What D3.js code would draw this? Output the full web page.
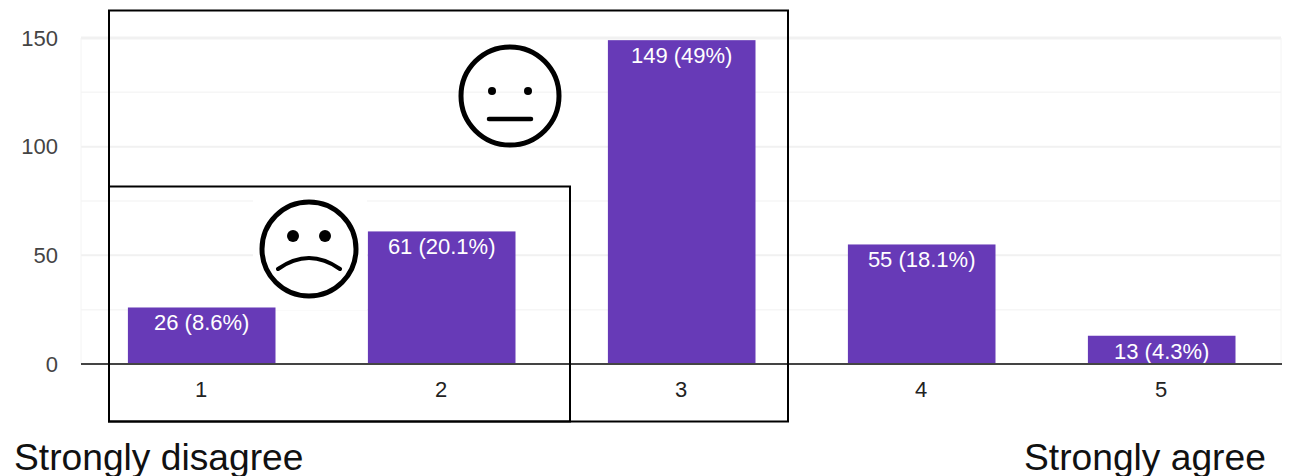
<!DOCTYPE html>
<html>
<head>
<meta charset="utf-8">
<script src="https://cdn.jsdelivr.net/npm/d3@7"></script>
<style>
  html, body { margin: 0; padding: 0; background: #fff; }
  svg { display: block; }
  text { font-family: "Liberation Sans", Arial, sans-serif; }
  .domain { display: none; }
</style>
</head>
<body>
<svg class="chart" width="1291" height="476"></svg>
<script>
const categories = ['1', '2', '3', '4', '5']
const counts = [26, 61, 149, 55, 13]
const percents = ['8.6%', '20.1%', '49%', '18.1%', '4.3%']
const majorTicks = [0, 50, 100, 150]
const minorTicks = [25, 75, 125]
const endLabels = ['Strongly disagree', 'Strongly agree']

const svg = d3.select('.chart')
const purple = '#673ab7'

const x = d3.scaleBand().domain(categories).range([81.7, 1281.7]).paddingInner(0.385).paddingOuter(0.1925)
const y = d3.scaleLinear().domain([0, 150]).range([364, 38])

// grid
svg.append('g').selectAll('line').data(minorTicks).enter().append('line')
    .attr('x1', 81).attr('x2', 1281)
    .attr('y1', d => y(d)).attr('y2', d => y(d))
    .attr('stroke', '#f6f6f6').attr('stroke-width', 1.5)
svg.append('g').selectAll('line').data(majorTicks.slice(1)).enter().append('line')
    .attr('x1', 81).attr('x2', 1281)
    .attr('y1', d => y(d)).attr('y2', d => y(d))
    .attr('stroke', '#f1f1f1').attr('stroke-width', d => d === 150 ? 3 : 2)
svg.append('g').selectAll('line').data([81, 1281]).enter().append('line')
    .attr('x1', d => d).attr('x2', d => d)
    .attr('y1', y(150)).attr('y2', y(0))
    .attr('stroke', '#f4f4f4').attr('stroke-width', 1)

// white patch pasted under the sad face
svg.append('rect').attr('x', 253).attr('y', 196).attr('width', 114).attr('height', 114).attr('fill', '#fff')

// bars
const bars = svg.append('g').selectAll('g').data(categories).enter().append('g')
bars.append('rect')
    .attr('x', d => x(d))
    .attr('y', (d, i) => y(counts[i]))
    .attr('width', x.bandwidth())
    .attr('height', (d, i) => y(0) - y(counts[i]))
    .attr('fill', purple)
bars.append('text')
    .attr('x', d => x(d) + x.bandwidth() / 2)
    .attr('y', (d, i) => y(counts[i]) + 23)
    .attr('text-anchor', 'middle')
    .attr('font-size', 22)
    .attr('fill', '#fff')
    .text((d, i) => `${counts[i]} (${percents[i]})`)

// axes
const yAxis = svg.append('g')
    .attr('transform', 'translate(81,0)')
    .call(d3.axisLeft(y).tickValues(majorTicks).tickSize(0).tickPadding(23))
yAxis.selectAll('text').attr('font-size', 22).attr('fill', '#444').attr('font-family', null)

const xAxis = svg.append('g')
    .attr('transform', 'translate(-0.7,364)')
    .call(d3.axisBottom(x).tickSize(0).tickPadding(17))
xAxis.selectAll('text').attr('font-size', 22).attr('fill', '#222').attr('font-family', null)

svg.append('line')
    .attr('x1', 81).attr('x2', 1282)
    .attr('y1', y(0)).attr('y2', y(0))
    .attr('stroke', '#444').attr('stroke-width', 2)

// annotation boxes
svg.append('rect').attr('x', 109).attr('y', 10.5).attr('width', 679).attr('height', 411)
    .attr('fill', 'none').attr('stroke', '#000').attr('stroke-width', 2)
svg.append('rect').attr('x', 109).attr('y', 186.5).attr('width', 461).attr('height', 235)
    .attr('fill', 'none').attr('stroke', '#000').attr('stroke-width', 2)

// faces
const face = svg.append('g').attr('transform', 'translate(510,96)')
    .attr('fill', 'none').attr('stroke', '#000')
face.append('circle').attr('r', 49).attr('stroke-width', 5)
face.selectAll('.eye').data([-18, 18]).enter().append('circle')
    .attr('class', 'eye').attr('cx', d => d).attr('cy', -5).attr('r', 4)
    .attr('fill', '#000').attr('stroke', 'none')
face.append('path').attr('d', 'M-21,23H21').attr('stroke-width', 4.5).attr('stroke-linecap', 'round')

const sad = svg.append('g').attr('transform', 'translate(309,249)')
    .attr('fill', 'none').attr('stroke', '#000')
sad.append('circle').attr('r', 47).attr('stroke-width', 5)
sad.selectAll('.eye').data([-16, 16]).enter().append('circle')
    .attr('class', 'eye').attr('cx', d => d).attr('cy', -13).attr('r', 6)
    .attr('fill', '#000').attr('stroke', 'none')
sad.append('path').attr('d', 'M-31,20Q0,-2 31,20').attr('stroke-width', 4).attr('stroke-linecap', 'round')

// scale end labels
svg.append('text').attr('x', 14).attr('y', 469.5).attr('font-size', 37.2).attr('fill', '#111').text(endLabels[0])
svg.append('text').attr('x', 1024).attr('y', 469.5).attr('font-size', 37.2).attr('fill', '#111').text(endLabels[1])
</script>
</body>
</html>
